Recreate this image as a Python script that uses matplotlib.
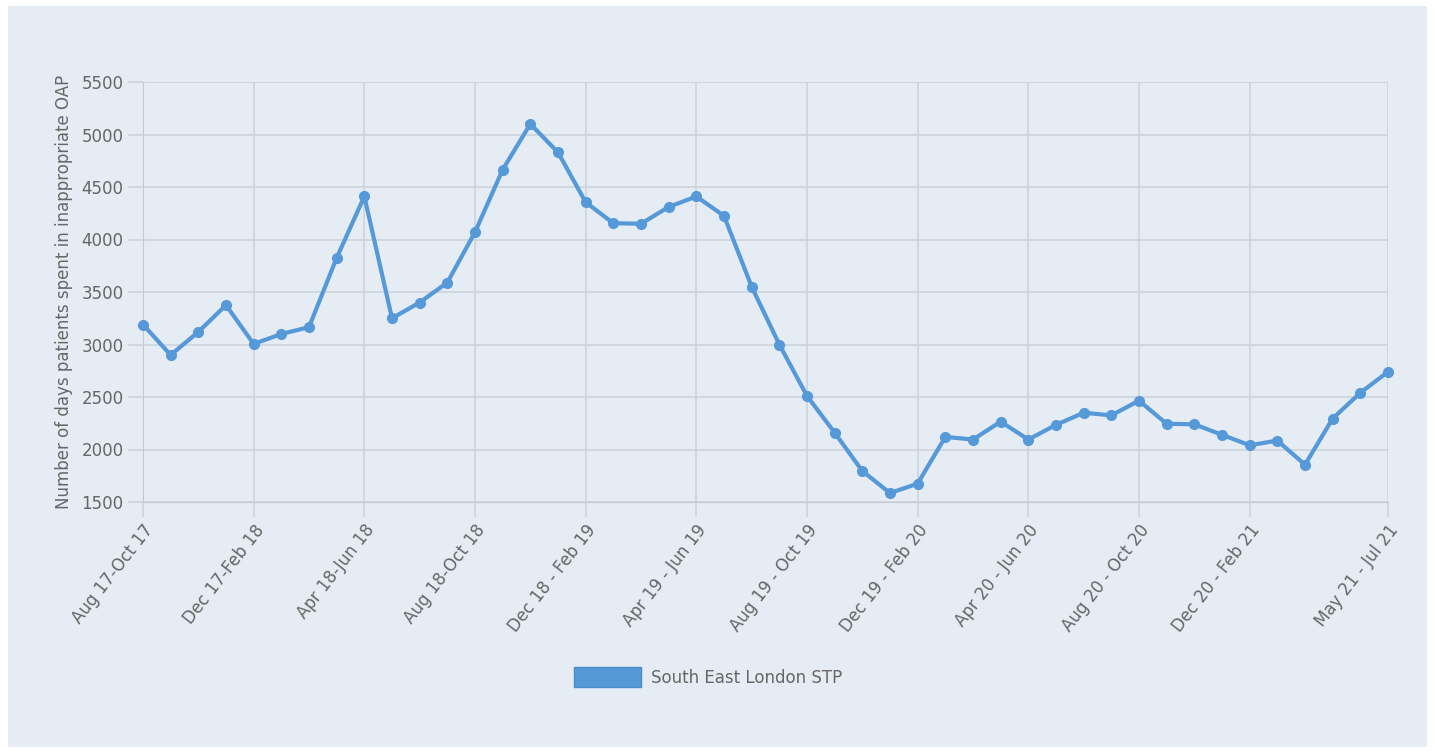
import numpy as np
import matplotlib.pyplot as plt
from matplotlib.patches import Patch, Rectangle

periods = [
    'Aug 17-Oct 17', 'Sep 17-Nov 17', 'Oct 17-Dec 17', 'Nov 17-Jan 18',
    'Dec 17-Feb 18', 'Jan 18-Mar 18', 'Feb 18-Apr 18', 'Mar 18-May 18',
    'Apr 18-Jun 18', 'May 18-Jul 18', 'Jun 18-Aug 18', 'Jul 18-Sep 18',
    'Aug 18-Oct 18', 'Sep 18-Nov 18', 'Oct 18-Dec 18', 'Nov 18-Jan 19',
    'Dec 18 - Feb 19', 'Jan 19 - Mar 19', 'Feb 19 - Apr 19', 'Mar 19 - May 19',
    'Apr 19 - Jun 19', 'May 19 - Jul 19', 'Jun 19 - Aug 19', 'Jul 19 - Sep 19',
    'Aug 19 - Oct 19', 'Sep 19 - Nov 19', 'Oct 19 - Dec 19', 'Nov 19 - Jan 20',
    'Dec 19 - Feb 20', 'Jan 20 - Mar 20', 'Feb 20 - Apr 20', 'Mar 20 - May 20',
    'Apr 20 - Jun 20', 'May 20 - Jul 20', 'Jun 20 - Aug 20', 'Jul 20 - Sep 20',
    'Aug 20 - Oct 20', 'Sep 20 - Nov 20', 'Oct 20 - Dec 20', 'Nov 20 - Jan 21',
    'Dec 20 - Feb 21', 'Jan 21 - Mar 21', 'Feb 21 - Apr 21', 'Mar 21 - May 21',
    'Apr 21 - Jun 21', 'May 21 - Jul 21',
]
days = [
    3190, 2900, 3120, 3375, 3005, 3100, 3165, 3825, 4410, 3250,
    3400, 3590, 4070, 4665, 5100, 4830, 4355, 4155, 4150, 4310,
    4410, 4225, 3550, 3000, 2510, 2160, 1795, 1585, 1675, 2120,
    2095, 2265, 2095, 2235, 2350, 2325, 2465, 2245, 2240, 2140,
    2040, 2085, 1855, 2295, 2540, 2740,
]
series_name = 'South East London STP'
y_ticks = [1500, 2000, 2500, 3000, 3500, 4000, 4500, 5000, 5500]

bg = '#e6ecf3'
line_color = '#5599d9'
text_color = '#666666'
grid_color = '#cbd1da'
font_size = 12

fig = plt.figure(figsize=(14.35, 7.53), dpi=100, facecolor='white')
fig.patches.append(Rectangle((8 / 1435, 6 / 753), 1419 / 1435, 741 / 753,
                             transform=fig.transFigure, facecolor=bg,
                             edgecolor='none', zorder=-5))

ax = fig.add_axes([143 / 1435, 1 - 502 / 753, 1245 / 1435, 420 / 753])
ax.set_facecolor(bg)

x = np.arange(len(periods))
ax.plot(x, days, color=line_color, linewidth=3.0, marker='o', markersize=7,
        zorder=3, clip_on=False)

# every fourth period up to Dec 20 gets a label, then the last one
shown = list(range(0, len(periods) - 4, 4)) + [len(periods) - 1]
ax.set_xticks(shown)
ax.set_xticklabels([periods[i] for i in shown], rotation=52, ha='right',
                   rotation_mode='anchor', fontsize=font_size, color=text_color)
ax.set_xlim(0, len(periods) - 1)

ax.set_yticks(y_ticks)
ax.set_yticklabels([str(v) for v in y_ticks], fontsize=font_size, color=text_color)
ax.set_ylim(y_ticks[0], y_ticks[-1])
ax.set_ylabel('Number of days patients spent in inappropriate OAP',
              fontsize=font_size, color=text_color, labelpad=6)

ax.grid(True, color=grid_color, linewidth=1.1)
ax.tick_params(axis='both', length=11, color=grid_color, width=1.1, pad=3)
for side in ['top', 'right']:
    ax.spines[side].set_visible(False)
for side in ['left', 'bottom']:
    ax.spines[side].set_color('#c3c9d2')

fig.legend(handles=[Patch(facecolor=line_color, edgecolor='#4a8ccc')],
           labels=[series_name], loc='center', bbox_to_anchor=(708 / 1435, 1 - 677 / 753),
           frameon=False, fontsize=font_size, labelcolor=text_color,
           handlelength=4.0, handleheight=1.4, handletextpad=0.6)

fig.savefig('out.png', dpi=100, facecolor='white')
